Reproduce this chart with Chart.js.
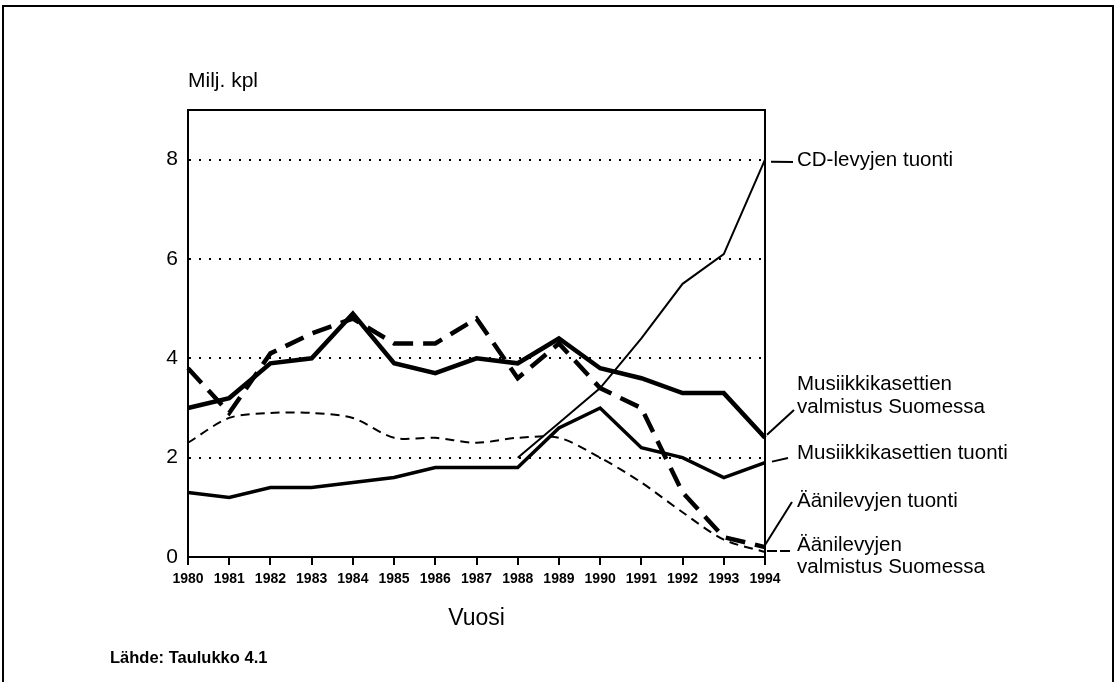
<!DOCTYPE html>
<html>
<head>
<meta charset="utf-8">
<script src="https://cdn.jsdelivr.net/npm/chart.js"></script>
<style>
    html, body { margin: 0; padding: 0; background: #fff; }
    #wrap { width: 1118px; height: 682px; position: relative; }
</style>
</head>
<body>
<div id="wrap"><canvas id="chart"></canvas></div>
<script>
// Data (Milj. kpl)
const years = ["1980", "1981", "1982", "1983", "1984", "1985", "1986", "1987",
    "1988", "1989", "1990", "1991", "1992", "1993", "1994"];
const cdImport = [null, null, null, null, null, null, null, null,
    2.0, 2.7, 3.4, 4.4, 5.5, 6.1, 8.0];
const cassetteProd = [3.0, 3.2, 3.9, 4.0, 4.9, 3.9, 3.7, 4.0, 3.9, 4.4, 3.8, 3.6, 3.3, 3.3, 2.4];
const cassetteImport = [1.3, 1.2, 1.4, 1.4, 1.5, 1.6, 1.8, 1.8, 1.8, 2.6, 3.0, 2.2, 2.0, 1.6, 1.9];
const recordImport = [3.8, 2.9, 4.1, 4.5, 4.8, 4.3, 4.3, 4.8, 3.6, 4.3, 3.4, 3.0, 1.3, 0.4, 0.2];
const recordProd = [2.3, 2.8, 2.9, 2.9, 2.8, 2.4, 2.4, 2.3, 2.4, 2.4, 2.0, 1.5, 0.9, 0.35, 0.1];
const yTicks = [0, 2, 4, 6, 8];

const FONT = "'Liberation Sans', Arial, Helvetica, sans-serif";
const INK = "#000";

// Labels at the right end, with short leader lines
const seriesLabels = [
    { lines: ["CD-levyjen tuonti"], y: [160], data: cdImport, from: [6, 2], to: [793, 162], dash: [] },
    { lines: ["Musiikkikasettien", "valmistus Suomessa"], y: [384, 407], data: cassetteProd, from: [2, -3], to: [794, 410], dash: [] },
    { lines: ["Musiikkikasettien tuonti"], y: [453], data: cassetteImport, from: [7, -1], to: [788, 458], dash: [] },
    { lines: ["Äänilevyjen tuonti"], y: [501], data: recordImport, from: [0, -2], to: [792, 502], dash: [] },
    { lines: ["Äänilevyjen", "valmistus Suomessa"], y: [545, 567], data: recordProd, from: [2, -1], to: [792, 551], dash: [10, 3] },
];

const decorations = {
    id: "decorations",
    beforeDraw(chart) {
        const ctx = chart.ctx;
        ctx.save();
        ctx.fillStyle = "#fff";
        ctx.fillRect(0, 0, chart.width, chart.height);
        ctx.strokeStyle = INK;
        ctx.lineWidth = 2;
        ctx.strokeRect(3, 6, 1110, 700);
        ctx.restore();
    },
    afterDraw(chart) {
        const ctx = chart.ctx;
        const area = chart.chartArea;
        const xs = chart.scales.x;
        const ys = chart.scales.y;
        ctx.save();
        ctx.strokeStyle = INK;
        ctx.fillStyle = INK;

        // top and right frame of the plot
        ctx.lineWidth = 2;
        ctx.beginPath();
        ctx.moveTo(area.left, area.top);
        ctx.lineTo(area.right, area.top);
        ctx.lineTo(area.right, area.bottom);
        ctx.stroke();

        // leaders + labels
        const lastIdx = years.length - 1;
        const x0 = xs.getPixelForValue(lastIdx);
        ctx.lineWidth = 2;
        ctx.font = "20.5px " + FONT;
        ctx.textAlign = "left";
        ctx.textBaseline = "middle";
        seriesLabels.forEach((s) => {
            const y0 = ys.getPixelForValue(s.data[lastIdx]);
            ctx.setLineDash(s.dash);
            ctx.beginPath();
            ctx.moveTo(x0 + s.from[0], y0 + s.from[1]);
            ctx.lineTo(s.to[0], s.to[1]);
            ctx.stroke();
            ctx.setLineDash([]);
            s.lines.forEach((t, i) => ctx.fillText(t, 797, s.y[i]));
        });

        // axis texts
        ctx.font = "21px " + FONT;
        ctx.fillText("Milj. kpl", 188, 81);
        ctx.textAlign = "center";
        ctx.font = "23px " + FONT;
        ctx.fillText("Vuosi", (area.left + area.right) / 2, 619);
        ctx.textAlign = "left";
        ctx.font = "bold 16.5px " + FONT;
        ctx.fillText("Lähde: Taulukko 4.1", 110, 658);
        ctx.restore();
    },
};

const base = {
    borderColor: INK,
    backgroundColor: INK,
    pointRadius: 0,
    fill: false,
    borderCapStyle: "butt",
    borderJoinStyle: "miter",
};

new Chart(document.getElementById("chart"), {
    type: "line",
    data: {
        labels: years,
        datasets: [
            { ...base, label: "CD-levyjen tuonti", data: cdImport, borderWidth: 2, tension: 0 },
            { ...base, label: "Musiikkikasettien valmistus Suomessa", data: cassetteProd, borderWidth: 4.5, tension: 0 },
            { ...base, label: "Musiikkikasettien tuonti", data: cassetteImport, borderWidth: 3.5, tension: 0 },
            { ...base, label: "Äänilevyjen tuonti", data: recordImport, borderWidth: 4.5, borderDash: [20, 10], tension: 0 },
            { ...base, label: "Äänilevyjen valmistus Suomessa", data: recordProd, borderWidth: 2, borderDash: [9, 6], tension: 0.3 },
        ],
    },
    options: {
        responsive: true,
        maintainAspectRatio: false,
        animation: false,
        layout: { padding: { top: 110, right: 353, bottom: 0, left: 0 } },
        plugins: {
            legend: { display: false },
            tooltip: { enabled: false },
        },
        scales: {
            x: {
                offset: false,
                afterFit: (s) => { s.height = 125; },
                grid: {
                    drawOnChartArea: false,
                    drawTicks: true,
                    tickLength: 8,
                    color: INK,
                    lineWidth: 2,
                },
                border: { display: true, color: INK, width: 2 },
                ticks: {
                    color: INK,
                    padding: 6,
                    maxRotation: 0,
                    autoSkip: false,
                    font: { family: FONT, size: 14, weight: "bold" },
                },
            },
            y: {
                min: 0,
                max: 9,
                afterFit: (s) => { s.width = 188; },
                afterBuildTicks: (s) => { s.ticks = yTicks.map((v) => ({ value: v })); },
                grid: {
                    drawTicks: false,
                    lineWidth: 2,
                    color: (c) => (c.tick && c.tick.value > 0 ? INK : "rgba(0,0,0,0)"),
                },
                border: { display: true, color: INK, width: 2, dash: [2, 8] },
                ticks: {
                    color: INK,
                    padding: 10,
                    font: { family: FONT, size: 21 },
                },
            },
        },
    },
    plugins: [decorations],
});
</script>
</body>
</html>
